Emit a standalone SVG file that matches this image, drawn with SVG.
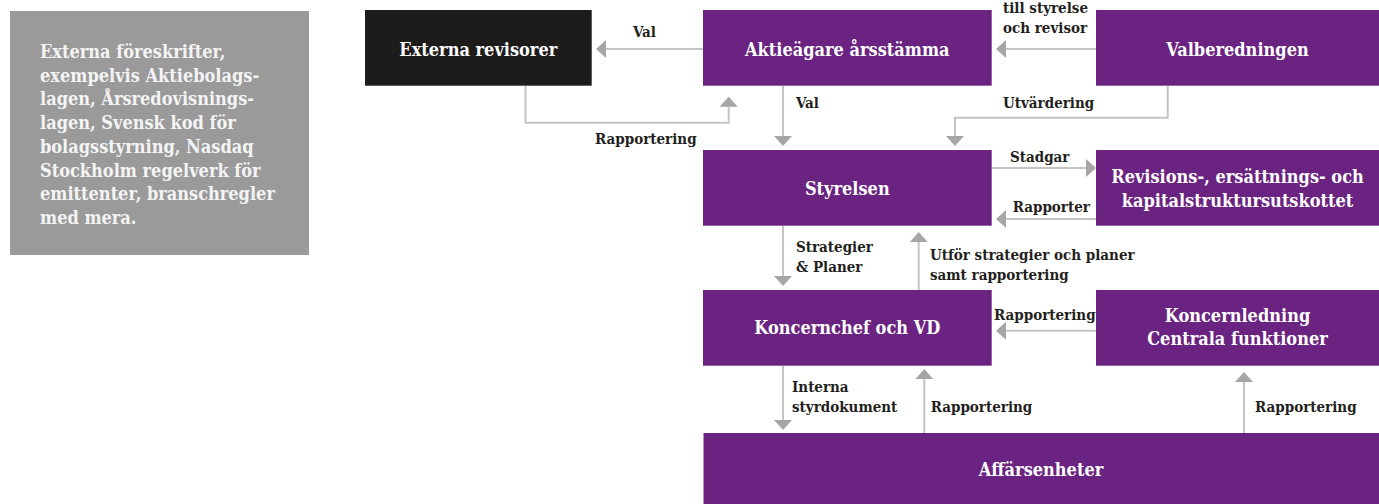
<svg xmlns="http://www.w3.org/2000/svg" width="1379" height="504" viewBox="0 0 1379 504">
<style>
.box{fill:#6a2380}
.node{font-family:"DejaVu Serif Condensed","DejaVu Serif",serif;font-weight:bold;font-size:18px;fill:#ffffff;text-anchor:middle}
.info{font-family:"DejaVu Serif Condensed","DejaVu Serif",serif;font-weight:bold;font-size:18px;fill:#f4f4f4}
.lbl{font-family:"DejaVu Serif Condensed","DejaVu Serif",serif;font-weight:bold;font-size:15px;fill:#231f20}
.con{fill:none;stroke:#c4c4c4;stroke-width:2}
</style>
<defs>
<marker id="ah" viewBox="0 0 10 18" refX="0" refY="9" markerWidth="10" markerHeight="18" markerUnits="userSpaceOnUse" orient="auto">
<path d="M0,0 L10,9 L0,18 z" fill="#a6a6a6"/>
</marker>
</defs>
<rect width="1379" height="504" fill="#ffffff"/>

<g id="info">
<rect x="10" y="11" width="299" height="244" fill="#9a9a9a"/>
<text class="info" x="40" y="58">Externa föreskrifter,</text>
<text class="info" x="40" y="81.7">exempelvis Aktiebolags-</text>
<text class="info" x="40" y="105.4">lagen, Årsredovisnings-</text>
<text class="info" x="40" y="129.1">lagen, Svensk kod för</text>
<text class="info" x="40" y="152.8">bolagsstyrning, Nasdaq</text>
<text class="info" x="40" y="176.5">Stockholm regelverk för</text>
<text class="info" x="40" y="200.2">emittenter, branschregler</text>
<text class="info" x="40" y="223.9">med mera.</text>
</g>

<g id="connectors">
<path class="con" d="M703,49 H606" marker-end="url(#ah)"/>
<path class="con" d="M1096,49 H1006" marker-end="url(#ah)"/>
<path class="con" d="M525.5,86 V122.7 H728.7 V106.7" marker-end="url(#ah)"/>
<path class="con" d="M783,86 V136" marker-end="url(#ah)"/>
<path class="con" d="M1167.7,86 V117.7 H955 V136" marker-end="url(#ah)"/>
<path class="con" d="M991.7,168 H1086" marker-end="url(#ah)"/>
<path class="con" d="M1096,219 H1006" marker-end="url(#ah)"/>
<path class="con" d="M783,226 V276" marker-end="url(#ah)"/>
<path class="con" d="M918.7,290 V242" marker-end="url(#ah)"/>
<path class="con" d="M1096,330.7 H1006" marker-end="url(#ah)"/>
<path class="con" d="M783,366 V420" marker-end="url(#ah)"/>
<path class="con" d="M924.3,433 V379" marker-end="url(#ah)"/>
<path class="con" d="M1244,433 V382" marker-end="url(#ah)"/>
<text class="lbl" x="633" y="37">Val</text>
<text class="lbl" x="1003" y="13">till styrelse</text>
<text class="lbl" x="1003" y="32.7">och revisor</text>
<text class="lbl" x="595" y="144">Rapportering</text>
<text class="lbl" x="796" y="108">Val</text>
<text class="lbl" x="1003" y="108">Utvärdering</text>
<text class="lbl" x="1010" y="162">Stadgar</text>
<text class="lbl" x="1012.7" y="211.7">Rapporter</text>
<text class="lbl" x="796" y="251.7">Strategier</text>
<text class="lbl" x="796" y="271.7">&amp; Planer</text>
<text class="lbl" x="930" y="260">Utför strategier och planer</text>
<text class="lbl" x="930" y="279.5">samt rapportering</text>
<text class="lbl" x="994" y="320">Rapportering</text>
<text class="lbl" x="792" y="391.7">Interna</text>
<text class="lbl" x="792" y="411.7">styrdokument</text>
<text class="lbl" x="930.7" y="411.7">Rapportering</text>
<text class="lbl" x="1255" y="412">Rapportering</text>
</g>

<g id="externa-revisorer">
<rect x="365" y="10" width="226.7" height="75.7" fill="#1e1c1b"/>
<text class="node" x="478.3" y="55.5">Externa revisorer</text>
</g>
<g id="aktieagare">
<rect class="box" x="703" y="10" width="288.7" height="75.7"/>
<text class="node" x="847.3" y="55.5">Aktieägare årsstämma</text>
</g>
<g id="valberedningen">
<rect class="box" x="1096" y="10" width="283" height="75.7"/>
<text class="node" x="1237.5" y="55.5">Valberedningen</text>
</g>
<g id="styrelsen">
<rect class="box" x="703" y="150" width="288.7" height="75.7"/>
<text class="node" x="847.3" y="195">Styrelsen</text>
</g>
<g id="utskott">
<rect class="box" x="1096" y="150" width="283" height="75.7"/>
<text class="node" x="1237.5" y="182.7">Revisions-, ersättnings- och</text>
<text class="node" x="1237.5" y="206.7">kapitalstruktursutskottet</text>
</g>
<g id="koncernchef">
<rect class="box" x="703" y="290" width="288.7" height="75.7"/>
<text class="node" x="847.3" y="334.3">Koncernchef och VD</text>
</g>
<g id="koncernledning">
<rect class="box" x="1096" y="290" width="283" height="75.7"/>
<text class="node" x="1237.5" y="321.7">Koncernledning</text>
<text class="node" x="1237.5" y="344.5">Centrala funktioner</text>
</g>
<g id="affarsenheter">
<rect class="box" x="703.5" y="433" width="675.5" height="71"/>
<text class="node" x="1041" y="476">Affärsenheter</text>
</g>
</svg>
